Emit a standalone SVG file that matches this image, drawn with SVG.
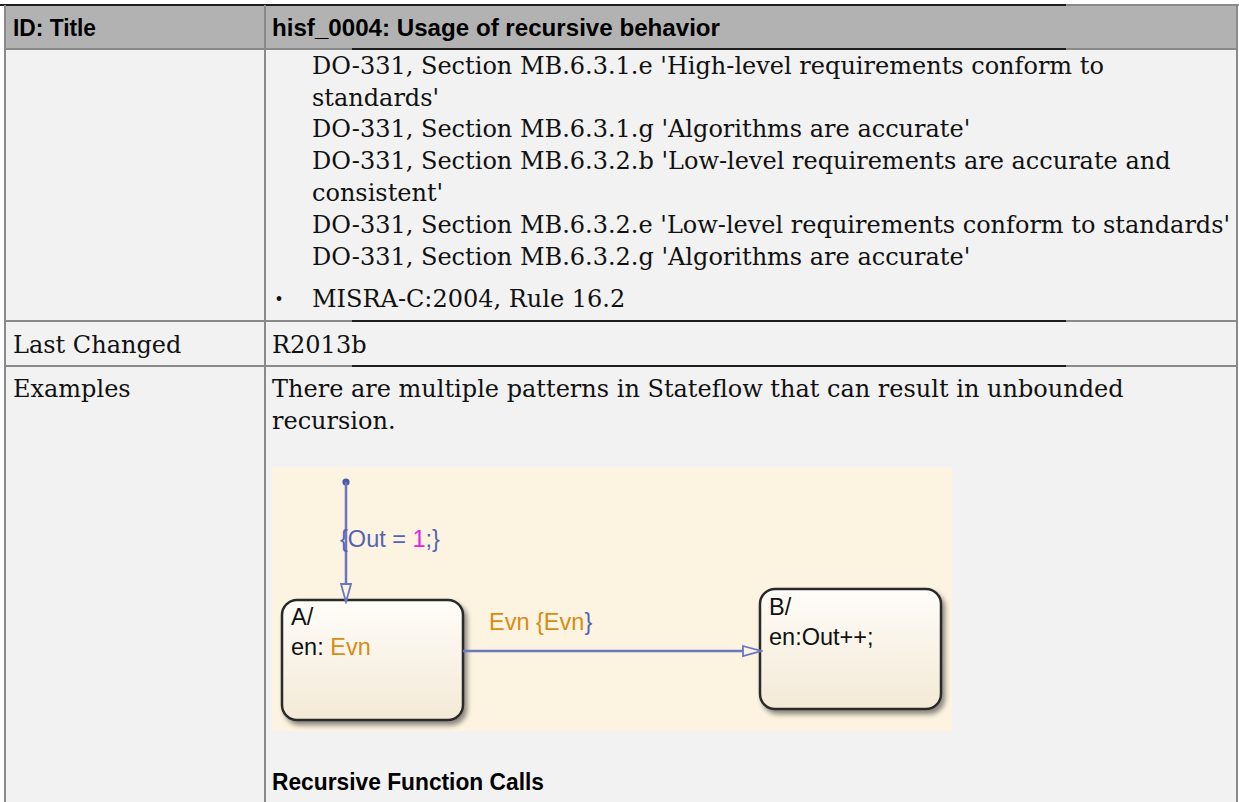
<svg xmlns="http://www.w3.org/2000/svg" width="1239" height="802" viewBox="0 0 1239 802">
  <style>
    .hdr{font-family:"Liberation Sans",Arial,sans-serif;font-weight:bold;font-size:24px;fill:#000}
    .body{font-family:"DejaVu Serif","Liberation Serif",serif;font-size:24px;fill:#111}
    .sf{font-family:"Liberation Sans",Arial,sans-serif;font-size:23.5px}
    .grid{stroke:#8a8a8a;stroke-width:2;fill:none}
    .dark{stroke:#1e1e1e;stroke-width:2;fill:none}
    .ink{fill:#111}
    .blue{fill:#5464b4}
    .mag{fill:#e61ee6}
    .evt{fill:#d88c14}
    .trans{stroke:#6a77c0;stroke-width:2.5;fill:none}
    .state{fill:url(#stateFill);stroke:#2b2b2b;stroke-width:2.5;filter:url(#shadow)}
  </style>
  <defs>
    <linearGradient id="stateFill" x1="0" y1="0" x2="0" y2="1">
      <stop offset="0" stop-color="#fffdf9"/>
      <stop offset="1" stop-color="#f3e9d6"/>
    </linearGradient>
    <filter id="shadow" x="-10%" y="-10%" width="130%" height="130%">
      <feDropShadow dx="3" dy="4" stdDeviation="2.5" flood-color="#000" flood-opacity="0.45"/>
    </filter>
    <marker id="openArrow" markerUnits="userSpaceOnUse" markerWidth="22" markerHeight="14" viewBox="-2 -7 22 14" refX="18" refY="0" orient="auto">
      <path d="M0,-5 L18,0 L0,5 Z" fill="#fdf3e1" stroke="#6a77c0" stroke-width="1.8"/>
    </marker>
  </defs>

  <!-- page and table cells -->
  <rect x="0" y="0" width="1239" height="802" fill="#ffffff"/>
  <rect x="5" y="5" width="1232" height="44" fill="#b2b2b2"/>
  <rect x="5" y="49" width="1232" height="753" fill="#f2f2f2"/>

  <!-- table rules -->
  <g id="table-grid">
    <line class="grid" x1="0" y1="5" x2="1239" y2="5"/>
    <line class="dark" x1="0" y1="5" x2="1066" y2="5"/>
    <line class="grid" x1="5" y1="49" x2="1237" y2="49"/>
    <line class="dark" x1="352" y1="49" x2="1066" y2="49"/>
    <line class="grid" x1="5" y1="321" x2="1237" y2="321"/>
    <line class="dark" x1="352" y1="321" x2="1066" y2="321"/>
    <line class="grid" x1="5" y1="366" x2="1237" y2="366"/>
    <line class="dark" x1="352" y1="366" x2="1066" y2="366"/>
    <line class="grid" x1="5" y1="5" x2="5" y2="802"/>
    <line class="grid" x1="265" y1="5" x2="265" y2="802"/>
    <line class="grid" x1="1237" y1="5" x2="1237" y2="802"/>
  </g>

  <!-- header row -->
  <text class="hdr" x="13" y="36" textLength="83" lengthAdjust="spacingAndGlyphs">ID: Title</text>
  <text class="hdr" x="272" y="36" textLength="448" lengthAdjust="spacingAndGlyphs">hisf_0004: Usage of recursive behavior</text>

  <!-- references cell -->
  <g class="body">
    <text x="312" y="74">DO-331, Section MB.6.3.1.e 'High-level requirements conform to</text>
    <text x="312" y="106">standards'</text>
    <text x="312" y="137">DO-331, Section MB.6.3.1.g 'Algorithms are accurate'</text>
    <text x="312" y="169">DO-331, Section MB.6.3.2.b 'Low-level requirements are accurate and</text>
    <text x="312" y="201">consistent'</text>
    <text x="312" y="233">DO-331, Section MB.6.3.2.e 'Low-level requirements conform to standards'</text>
    <text x="312" y="265">DO-331, Section MB.6.3.2.g 'Algorithms are accurate'</text>
    <text x="279" y="305" text-anchor="middle" style="font-size:16px">•</text>
    <text x="312" y="307">MISRA-C:2004, Rule 16.2</text>

    <text x="13" y="353">Last Changed</text>
    <text x="272" y="353">R2013b</text>

    <text x="13" y="397">Examples</text>
    <text x="272" y="397">There are multiple patterns in Stateflow that can result in unbounded</text>
    <text x="272" y="429">recursion.</text>
  </g>

  <!-- chart canvas -->
  <rect x="272" y="467" width="680" height="264" fill="#fdf3e1"/>

  <!-- states -->
  <g id="state-A">
    <rect class="state" x="282" y="600" width="181" height="120" rx="15" ry="15"/>
    <text class="sf ink" x="291" y="625">A/</text>
    <text class="sf" x="291" y="655"><tspan class="ink">en: </tspan><tspan class="evt">Evn</tspan></text>
  </g>
  <g id="state-B">
    <rect class="state" x="760" y="589" width="181" height="120" rx="15" ry="15"/>
    <text class="sf ink" x="769" y="615">B/</text>
    <text class="sf ink" x="769" y="645">en:Out++;</text>
  </g>

  <!-- transitions -->
  <g id="transitions">
    <circle cx="346" cy="482" r="3.6" fill="#4a58a8"/>
    <line class="trans" x1="346" y1="482" x2="346" y2="602" marker-end="url(#openArrow)"/>
    <line class="trans" x1="463" y1="651" x2="761" y2="651" marker-end="url(#openArrow)"/>
    <text class="sf" x="340" y="547"><tspan class="blue">{Out = </tspan><tspan class="mag">1</tspan><tspan class="blue">;}</tspan></text>
    <text class="sf" x="489" y="630"><tspan class="evt">Evn {Evn</tspan><tspan class="blue">}</tspan></text>
  </g>

  <!-- next section heading -->
  <text class="hdr" x="272" y="790" textLength="272" lengthAdjust="spacingAndGlyphs">Recursive Function Calls</text>
</svg>
